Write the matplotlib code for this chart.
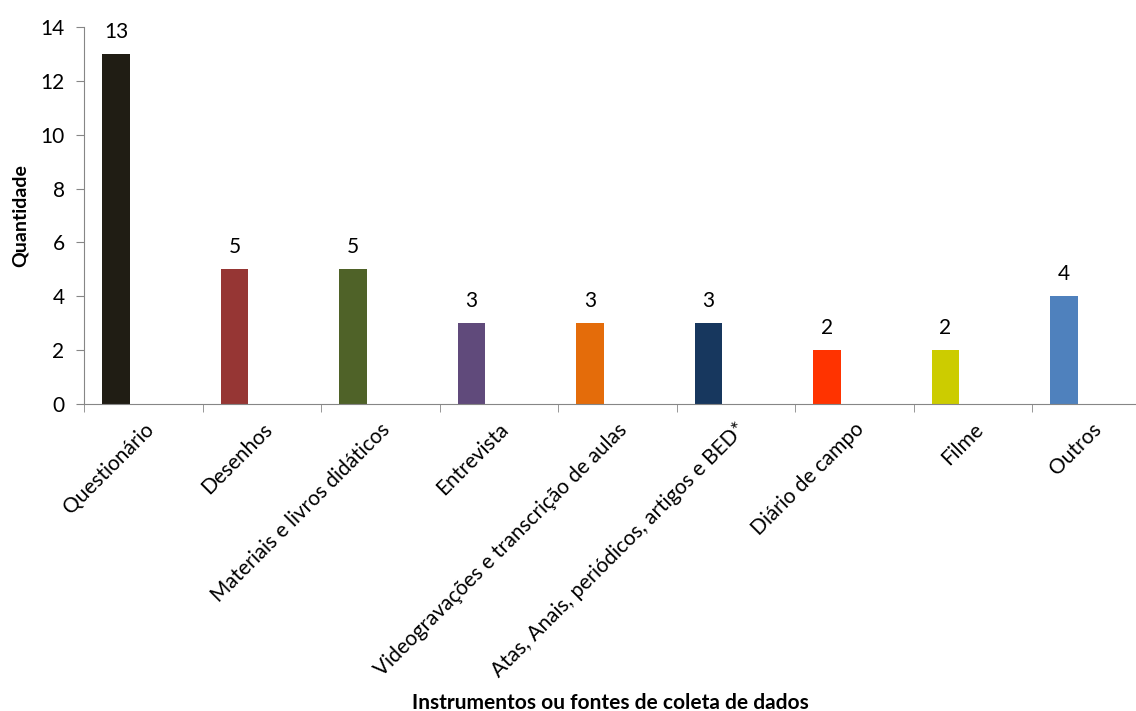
import matplotlib.pyplot as plt
import numpy as np

categorias = ["Questionário", "Desenhos", "Materiais e livros didáticos", "Entrevista",
              "Videogravações e transcrição de aulas",
              "Atas, Anais, periódicos, artigos e BED*",
              "Diário de campo", "Filme", "Outros"]
quantidade = [13, 5, 5, 3, 3, 3, 2, 2, 4]
cores = ["#201d14", "#963634", "#4f6228", "#604a7b", "#e46c0a",
         "#17375e", "#ff3300", "#cccc00", "#4f81bd"]

plt.rcParams['font.family'] = ['Lato', 'DejaVu Sans']

fig = plt.figure(figsize=(11.36, 7.11), dpi=100)
ax = fig.add_axes([84/1136, 1 - 404/711, 1 - 84/1136, (404 - 27)/711])

x = np.arange(len(categorias))
ax.bar(x - 0.23, quantidade, width=0.23, color=cores)
for xi, v in zip(x, quantidade):
    ax.text(xi - 0.23, v + 0.45, str(v), ha='center', va='bottom', fontsize=15)

ax.set_xlim(-0.5, (1136 - 84) / 118.5 - 0.5)
ax.set_ylim(0, 14)
ax.set_yticks(range(0, 15, 2))

ax.set_xticks(x)
ax.set_xticklabels(categorias, rotation=45, ha='right', va='top',
                   rotation_mode='anchor', fontsize=15)
ax.set_xticks(np.arange(len(categorias)) - 0.5, minor=True)
ax.tick_params(axis='x', which='major', length=0, pad=11)
ax.tick_params(axis='x', which='minor', length=6, color='#868686', direction='out')
ax.tick_params(axis='y', length=6, color='#868686', labelsize=15, pad=8)

for s in ['top', 'right']:
    ax.spines[s].set_visible(False)
for s in ['left', 'bottom']:
    ax.spines[s].set_color('#868686')

ax.set_ylabel("Quantidade", fontsize=14, fontweight='bold', labelpad=8)
fig.text(0.5 + 42/1136, 1 - 703/711, "Instrumentos ou fontes de coleta de dados",
         ha='center', va='center', fontsize=15, fontweight='bold')

fig.savefig("out.png", dpi=100)
